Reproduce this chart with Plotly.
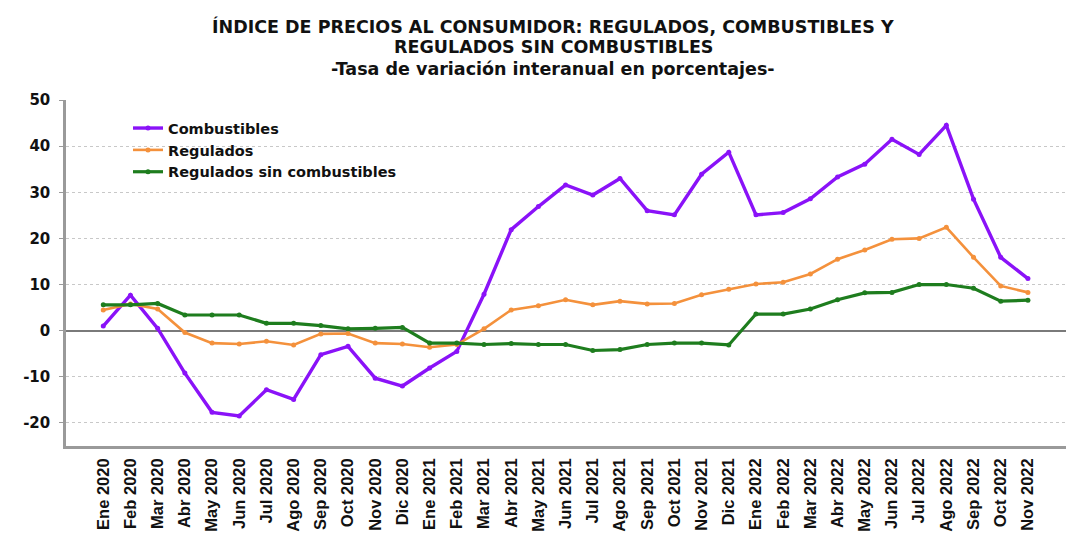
import plotly.graph_objects as go

months = ["Ene", "Feb", "Mar", "Abr", "May", "Jun", "Jul", "Ago", "Sep", "Oct", "Nov", "Dic"]
periods = [f"{m} {y}" for y in (2020, 2021, 2022) for m in months][:35]

combustibles = [1.0, 7.7, 0.5, -9.2, -17.7, -18.5, -12.8, -14.9, -5.2, -3.4, -10.3, -12.0,
                -8.1, -4.5, 7.9, 21.9, 26.9, 31.6, 29.4, 33.0, 26.0, 25.1, 33.9, 38.7,
                25.1, 25.6, 28.6, 33.3, 36.1, 41.5, 38.2, 44.5, 28.5, 15.9, 11.3]
regulados = [4.5, 5.8, 4.7, -0.4, -2.7, -2.9, -2.3, -3.1, -0.7, -0.6, -2.7, -2.9,
             -3.6, -3.0, 0.4, 4.5, 5.4, 6.7, 5.6, 6.4, 5.8, 5.9, 7.8, 9.0,
             10.1, 10.5, 12.3, 15.5, 17.5, 19.8, 20.0, 22.4, 15.9, 9.7, 8.3]
regulados_sin_comb = [5.6, 5.6, 5.9, 3.4, 3.4, 3.4, 1.6, 1.6, 1.1, 0.4, 0.5, 0.7,
                      -2.7, -2.7, -3.0, -2.8, -3.0, -3.0, -4.3, -4.1, -3.0, -2.7, -2.7, -3.1,
                      3.6, 3.6, 4.7, 6.7, 8.2, 8.3, 10.0, 10.0, 9.2, 6.4, 6.6]

y_ticks = [-20, -10, 0, 10, 20, 30, 40, 50]

title_lines = [
    "ÍNDICE DE PRECIOS AL CONSUMIDOR: REGULADOS, COMBUSTIBLES Y",
    "REGULADOS SIN COMBUSTIBLES",
    "-Tasa de variación interanual en porcentajes-",
]

series = [
    ("Combustibles", combustibles, "#8A12F8", 3.4),
    ("Regulados", regulados, "#F4913C", 2.6),
    ("Regulados sin combustibles", regulados_sin_comb, "#1E7D1E", 3.2),
]

fig = go.Figure()
x_idx = list(range(len(periods)))
for name, vals, color, width in series:
    fig.add_trace(go.Scatter(
        x=x_idx, y=vals, name=f"<b>{name}</b>", mode="lines+markers",
        line=dict(color=color, width=width),
        marker=dict(size=5, color=color, symbol="circle"),
    ))

# Title block drawn as centred annotations above the plot area
title_font = dict(family="DejaVu Sans, Liberation Sans, Arial, sans-serif", size=17.5, color="#111111")
for text, ypos in zip(title_lines, [1.211, 1.152, 1.091]):
    fig.add_annotation(
        text=f"<b>{text}</b>", xref="paper", yref="paper",
        x=0.487, y=ypos, xanchor="center", yanchor="middle",
        showarrow=False, font=title_font,
    )

fig.update_layout(
    width=1084, height=537,
    margin=dict(l=66, r=18, t=100, b=91),
    paper_bgcolor="white", plot_bgcolor="white",
    font=dict(family="Liberation Sans, Arial, sans-serif", color="#111111"),
    showlegend=True,
    legend=dict(
        x=0.062, y=0.965, xanchor="left", yanchor="top",
        bgcolor="rgba(0,0,0,0)", tracegroupgap=0,
        font=dict(size=14.5, family="DejaVu Sans, Liberation Sans, Arial, sans-serif", color="#111111"),
        itemwidth=30,
    ),
    xaxis=dict(
        range=[-1.37, 35.4],
        tickmode="array", tickvals=x_idx,
        ticktext=[f"<b>{p}</b>" for p in periods],
        tickangle=-90, tickfont=dict(size=16.5, color="#111111"),
        showgrid=False, zeroline=False,
        showline=True, linecolor="#9a9a9a", linewidth=2.5,
        ticks="", ticklabelstandoff=3,
        automargin=False,
    ),
    yaxis=dict(
        range=[-25, 50],
        tickmode="array", tickvals=y_ticks,
        ticktext=[f"<b>{v}</b>" for v in y_ticks],
        tickfont=dict(size=15, family="DejaVu Sans, Liberation Sans, sans-serif", color="#111111"),
        showgrid=True, gridcolor="#c8c8c8", griddash="dot", gridwidth=1,
        zeroline=True, zerolinecolor="#7a7a7a", zerolinewidth=2,
        showline=True, linecolor="#9a9a9a", linewidth=2.5,
        ticks="outside", ticklen=4, tickcolor="#9a9a9a",
        ticklabelstandoff=6, automargin=False,
    ),
)

fig.write_html("out.html")
